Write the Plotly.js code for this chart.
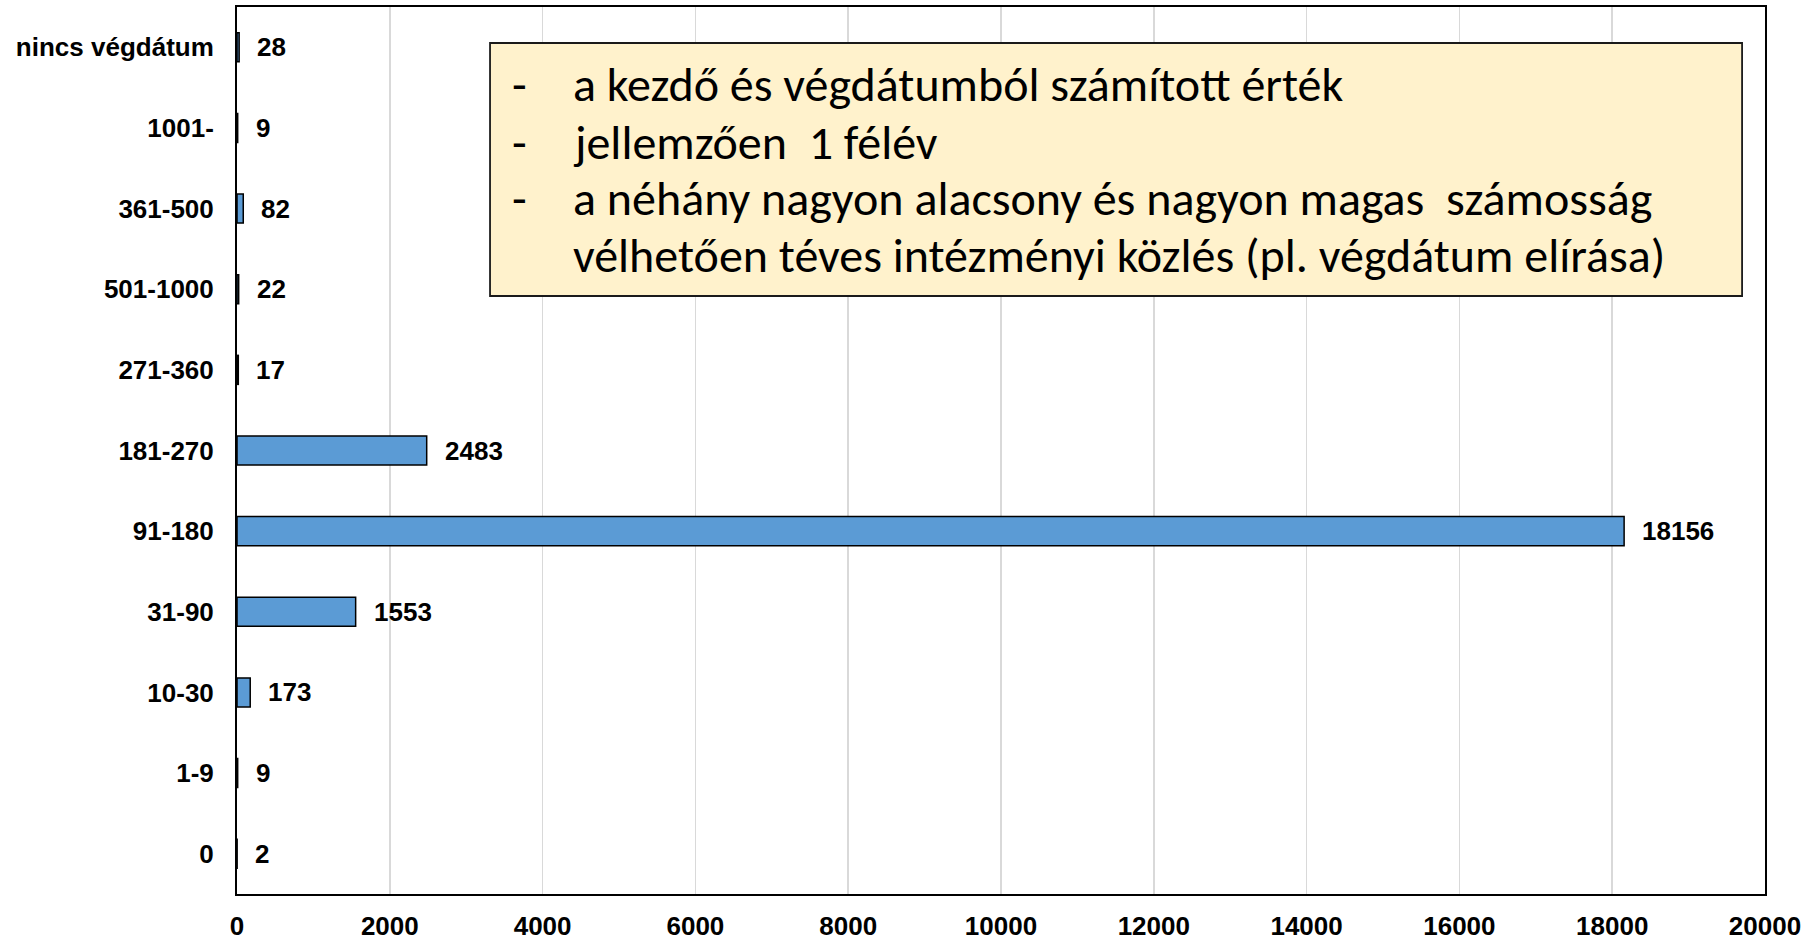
<!DOCTYPE html>
<html>
<head>
<meta charset="utf-8">
<script src="https://cdn.plot.ly/plotly-3.0.1.min.js"></script>
<style>html,body{margin:0;padding:0;background:#fff;}#chart{width:1816px;height:940px;}</style>
</head>
<body>
<div id="chart"></div>
<script>
// Categories listed bottom-to-top (Plotly draws first category at the bottom)
const categories = ['0', '1-9', '10-30', '31-90', '91-180', '181-270', '271-360', '501-1000', '361-500', '1001-', 'nincs végdátum'];
const counts = [2, 9, 173, 1553, 18156, 2483, 17, 22, 82, 9, 28];
const xTickValues = [0, 2000, 4000, 6000, 8000, 10000, 12000, 14000, 16000, 18000, 20000];
const noteLines = [
  'a kezdő és végdátumból számított érték',
  'jellemzően  1 félév',
  'a néhány nagyon alacsony és nagyon magas  számosság',
  'vélhetően téves intézményi közlés (pl. végdátum elírása)'
];
const noteBullets = ['-', '-', '-', ''];

const axisFont = {family: 'Liberation Sans, Arial, sans-serif', size: 26, color: '#000'};
const noteFont = {family: 'Carlito, Lato, sans-serif', size: 48, color: '#000'};

const trace = {
  type: 'bar',
  orientation: 'h',
  y: categories,
  x: counts,
  width: 0.36,
  marker: {color: '#5B9BD5', line: {color: '#000', width: 1.5}},
  hoverinfo: 'x+y'
};

const annotations = counts.map((v, i) => ({
  x: v, y: categories[i], xref: 'x', yref: 'y',
  text: String(v), showarrow: false, xanchor: 'left', yanchor: 'middle',
  xshift: 16, font: {family: 'Liberation Sans, Arial, sans-serif', size: 26, color: '#000', weight: 'bold'}
}));

const lineY = [0.913, 0.847, 0.784, 0.720];
noteLines.forEach((t, i) => {
  annotations.push({x: 0.2186, y: lineY[i], xref: 'paper', yref: 'paper', text: t, showarrow: false,
    xanchor: 'left', yanchor: 'middle', font: noteFont});
  if (noteBullets[i]) {
    annotations.push({x: 0.1787, y: lineY[i], xref: 'paper', yref: 'paper', text: noteBullets[i], showarrow: false,
      xanchor: 'left', yanchor: 'middle', font: noteFont});
  }
});

const layout = {
  width: 1816, height: 940,
  margin: {l: 237, r: 51, t: 7, b: 46},
  paper_bgcolor: '#fff', plot_bgcolor: '#fff',
  showlegend: false,
  bargap: 0.64,
  xaxis: {
    range: [0, 20000], tickvals: xTickValues, ticktext: xTickValues.map(String),
    showgrid: true, gridcolor: '#d9d9d9', gridwidth: 1.5,
    showline: true, linecolor: '#000', linewidth: 2, mirror: true,
    zeroline: false, ticks: '', ticklabelstandoff: 8,
    tickfont: Object.assign({weight: 'bold'}, axisFont), fixedrange: true
  },
  yaxis: {
    type: 'category', range: [-0.5, 10.5],
    showgrid: false, showline: true, linecolor: '#000', linewidth: 2, mirror: true,
    ticks: '', ticklabelstandoff: 16,
    tickfont: Object.assign({weight: 'bold'}, axisFont), fixedrange: true
  },
  shapes: [{
    type: 'rect', xref: 'paper', yref: 'paper',
    x0: 0.1656, x1: 0.985, y0: 0.6742, y1: 0.9594,
    fillcolor: '#FFF2CC', line: {color: '#1a1a1a', width: 1.8}, layer: 'above'
  }],
  annotations: annotations
};

Plotly.newPlot('chart', [trace], layout, {displayModeBar: false, staticPlot: true});
</script>
</body>
</html>
